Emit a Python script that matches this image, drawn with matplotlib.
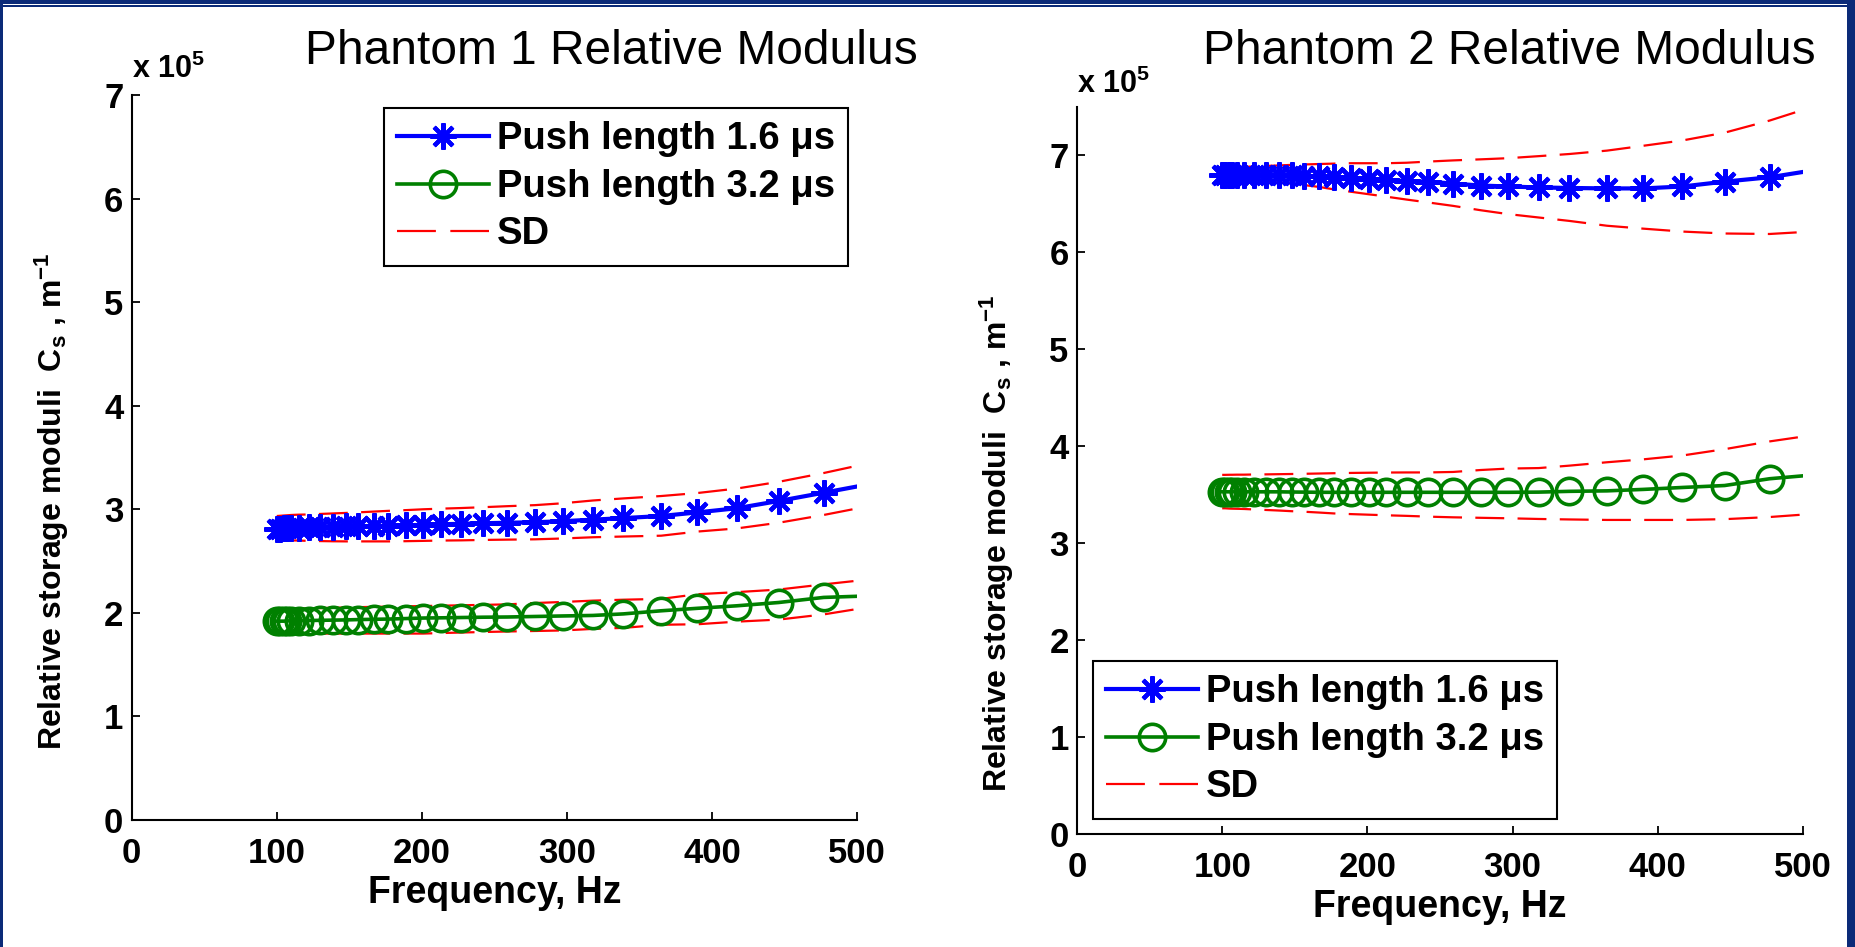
import matplotlib
matplotlib.use('Agg')
from matplotlib import pyplot as plt
from matplotlib.patches import Rectangle
from matplotlib.lines import Line2D

plt.rcParams['font.family'] = ['Liberation Sans', 'DejaVu Sans']
plt.rcParams['mathtext.fontset'] = 'custom'
plt.rcParams['mathtext.rm'] = 'Liberation Sans:bold'
plt.rcParams['mathtext.it'] = 'Liberation Sans:bold'
plt.rcParams['mathtext.bf'] = 'Liberation Sans:bold'
plt.rcParams['mathtext.default'] = 'rm'

# frequencies (Hz), values in units of 1e5 m^-1
freq = [100, 102, 105, 107, 110, 115, 122, 130, 139, 148, 156, 167, 177, 189, 201,
        213, 227, 242, 259, 278, 297, 318, 339, 365, 390, 417, 446, 477, 500]

# phantom 1
p1_short = [2.81, 2.81, 2.815, 2.815, 2.82, 2.82, 2.825, 2.83, 2.83, 2.835, 2.835, 2.84, 2.84, 2.845, 2.85,
            2.855, 2.86, 2.865, 2.87, 2.875, 2.885, 2.90, 2.915, 2.935, 2.97, 3.01, 3.08, 3.16, 3.22]
p1_short_hi = [2.935, 2.937, 2.94, 2.942, 2.945, 2.948, 2.95, 2.955, 2.96, 2.965, 2.97, 2.978, 2.985, 2.992, 3.0,
               3.006, 3.012, 3.02, 3.03, 3.04, 3.058, 3.085, 3.105, 3.128, 3.157, 3.20, 3.265, 3.35, 3.42]
p1_short_lo = [2.706, 2.705, 2.703, 2.702, 2.70, 2.698, 2.695, 2.693, 2.691, 2.69, 2.69, 2.69, 2.69, 2.692, 2.695,
               2.698, 2.70, 2.704, 2.707, 2.71, 2.718, 2.73, 2.737, 2.745, 2.785, 2.815, 2.87, 2.945, 3.008]
p1_long = [1.92, 1.92, 1.92, 1.922, 1.923, 1.925, 1.926, 1.928, 1.93, 1.932, 1.935, 1.938, 1.94, 1.945, 1.95,
           1.952, 1.955, 1.958, 1.96, 1.965, 1.97, 1.975, 1.99, 2.02, 2.044, 2.068, 2.10, 2.149, 2.16]
p1_long_hi = [2.037, 2.037, 2.038, 2.039, 2.04, 2.041, 2.043, 2.046, 2.049, 2.052, 2.055, 2.058, 2.06, 2.063, 2.066,
              2.069, 2.073, 2.077, 2.082, 2.095, 2.105, 2.118, 2.127, 2.135, 2.18, 2.20, 2.225, 2.275, 2.31]
p1_long_lo = [1.80, 1.80, 1.80, 1.80, 1.80, 1.80, 1.80, 1.80, 1.80, 1.80, 1.80, 1.80, 1.80, 1.80, 1.80,
              1.805, 1.81, 1.815, 1.82, 1.825, 1.83, 1.845, 1.855, 1.885, 1.89, 1.915, 1.935, 1.985, 2.037]

# phantom 2
p2_short = [6.80, 6.80, 6.80, 6.80, 6.80, 6.80, 6.80, 6.80, 6.80, 6.795, 6.79, 6.785, 6.78, 6.77, 6.76,
            6.75, 6.735, 6.73, 6.71, 6.69, 6.68, 6.67, 6.665, 6.66, 6.66, 6.68, 6.73, 6.775, 6.83]
p2_short_hi = [6.87, 6.872, 6.875, 6.877, 6.88, 6.882, 6.887, 6.892, 6.897, 6.903, 6.907, 6.912, 6.916, 6.92, 6.92,
               6.92, 6.925, 6.937, 6.949, 6.96, 6.972, 6.993, 7.015, 7.05, 7.10, 7.155, 7.235, 7.36, 7.47]
p2_short_lo = [6.75, 6.75, 6.75, 6.75, 6.75, 6.745, 6.74, 6.73, 6.72, 6.71, 6.695, 6.675, 6.65, 6.625, 6.60,
               6.575, 6.545, 6.515, 6.48, 6.435, 6.395, 6.36, 6.325, 6.275, 6.245, 6.215, 6.195, 6.19, 6.21]
p2_long = [3.53, 3.53, 3.53, 3.53, 3.53, 3.53, 3.53, 3.53, 3.53, 3.528, 3.527, 3.525, 3.525, 3.525, 3.525,
           3.525, 3.525, 3.525, 3.525, 3.525, 3.525, 3.527, 3.535, 3.54, 3.555, 3.575, 3.595, 3.665, 3.695]
p2_long_hi = [3.705, 3.705, 3.706, 3.706, 3.707, 3.707, 3.709, 3.71, 3.712, 3.714, 3.716, 3.719, 3.722, 3.725, 3.727,
              3.729, 3.73, 3.73, 3.735, 3.755, 3.77, 3.775, 3.80, 3.835, 3.865, 3.905, 3.97, 4.05, 4.10]
p2_long_lo = [3.36, 3.36, 3.357, 3.356, 3.355, 3.353, 3.348, 3.343, 3.337, 3.33, 3.325, 3.316, 3.307, 3.30, 3.294,
              3.288, 3.282, 3.274, 3.267, 3.262, 3.257, 3.25, 3.245, 3.24, 3.24, 3.24, 3.248, 3.27, 3.295]

xticks = [0, 100, 200, 300, 400, 500]
yticks = [0, 1, 2, 3, 4, 5, 6, 7]
labels = ['Push length 1.6 \u03bcs', 'Push length 3.2 \u03bcs', 'SD']

W, H = 1855, 947
fig = plt.figure(figsize=(W / 100, H / 100), dpi=100)
fig.patch.set_facecolor('white')

navy = '#0b2a78'
for x, y, w, h in [(0, H - 4, W, 4), (0, H - 7.5, W, 2), (0, 0, 3, H), (W - 8, 0, 8, H)]:
    fig.add_artist(Rectangle((x / W, y / H), w / W, h / H, transform=fig.transFigure,
                             facecolor=navy, edgecolor='none', zorder=10))

star = (8, 2, 0)
nmark = len(freq) - 1


def panel(rect, ymax, short, short_hi, short_lo, long_, long_hi, long_lo,
          title, tx, leg_loc, leg_anchor, ylab_y, exp_off):
    ax = fig.add_axes(rect)
    for s in (short_hi, short_lo, long_hi, long_lo):
        ax.plot(freq, s, color='red', lw=1.6, dashes=(13, 6), zorder=2)
    h1, = ax.plot(freq, short, color='blue', lw=3, marker=star, ms=19, mew=3,
                  markevery=slice(0, nmark), zorder=3)
    h2, = ax.plot(freq, long_, color='#008000', lw=2.6, marker='o', ms=19, mew=2.6,
                  mfc='none', markevery=slice(0, nmark), zorder=3)
    # legend key for the SD lines: two whole dashes
    sd_key = Line2D([], [], color='red', lw=1.6, dashes=(17.5, 6.5))
    ax.set_xlim(0, 500)
    ax.set_ylim(0, ymax)
    ax.set_xticks(xticks)
    ax.set_yticks(yticks)
    for side in ('top', 'right'):
        ax.spines[side].set_visible(False)
    for side in ('left', 'bottom'):
        ax.spines[side].set_linewidth(1.5)
    ax.tick_params(direction='in', length=6, width=1.3, labelsize=25, pad=6)
    ax.tick_params(axis='x', pad=12)
    for lab in ax.get_xticklabels() + ax.get_yticklabels():
        lab.set_fontweight('bold')
    ax.set_xlabel('Frequency, Hz', fontsize=27, fontweight='bold')
    ax.xaxis.label.set_va('center')
    ax.xaxis.set_label_coords(0.5, -0.1)
    ax.set_ylabel(r'Relative storage moduli  C$_s$ , m$^{-1}$', fontsize=23, fontweight='bold')
    ax.yaxis.label.set_va('center')
    ax.yaxis.set_label_coords(-0.11, ylab_y)
    ax.annotate(r'x 10$^5$', xy=(0, 1), xycoords='axes fraction', xytext=(0, exp_off),
                textcoords='offset points', fontsize=22, fontweight='bold', va='baseline', ha='left')
    leg = ax.legend([h1, h2, sd_key], labels, loc=leg_loc, bbox_to_anchor=leg_anchor,
                    prop={'weight': 'bold', 'size': 27.5}, handlelength=2.4, handletextpad=0.2,
                    labelspacing=0.3, borderpad=0.35, borderaxespad=0, fancybox=False,
                    framealpha=1, edgecolor='black')
    leg.get_frame().set_linewidth(1.5)
    fig.text(tx, 1 - 52 / H, title, fontsize=34.5, ha='center', va='center')
    return ax


panel([131.7 / W, (H - 820) / H, 725.3 / W, 725 / H], 7,
      p1_short, p1_short_hi, p1_short_lo, p1_long, p1_long_hi, p1_long_lo,
      'Phantom 1 Relative Modulus', 611 / W, 'upper left', (0.348, 0.982), 0.44, 12)
panel([1077 / W, (H - 834) / H, 726 / W, 727 / H], 7.5,
      p2_short, p2_short_hi, p2_short_lo, p2_long, p2_long_hi, p2_long_lo,
      'Phantom 2 Relative Modulus', 1509 / W, 'lower left', (0.022, 0.021), 0.40, 10)

fig.savefig('out.png', dpi=100)
